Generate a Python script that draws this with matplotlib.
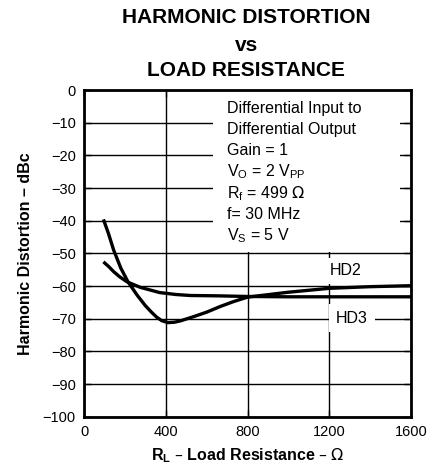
import matplotlib.pyplot as plt
from matplotlib.patches import Rectangle

plt.rcParams['font.family'] = ['Liberation Sans', 'DejaVu Sans']

# HD2 and HD3 vs load resistance
hd2_r = [95, 120, 145, 180, 215, 260, 300, 330, 355, 380, 410, 440, 470, 535, 600, 665, 730, 800, 1000, 1200, 1400, 1600]
hd2_db = [-39.6, -44.0, -49.0, -54.5, -58.7, -62.8, -66.0, -68.0, -69.5, -70.6, -71.2, -71.1, -70.7, -69.4, -68.0, -66.3, -64.8, -63.4, -61.9, -60.7, -60.2, -59.9]
hd3_r = [95, 120, 145, 175, 210, 275, 370, 450, 520, 650, 800, 1000, 1200, 1400, 1600]
hd3_db = [-52.6, -54.0, -55.6, -57.2, -58.7, -60.4, -62.0, -62.6, -62.9, -63.0, -63.2, -63.3, -63.3, -63.3, -63.3]

x_ticks = [0, 400, 800, 1200, 1600]
y_ticks = list(range(-100, 1, 10))

conditions = ['Differential Input to', 'Differential Output', 'Gain = 1',
              r'V$_\mathregular{O}$ = 2 V$_\mathregular{PP}$',
              r'R$_\mathregular{f}$ = 499 $\Omega$',
              'f= 30 MHz', r'V$_\mathregular{S}$ = 5 V']

fig = plt.figure(figsize=(4.45, 4.7), dpi=100)
ax = fig.add_axes([0.1888, 0.1134, 0.7348, 0.6951])

ax.set_xlim(0, 1600)
ax.set_ylim(-100, 0)
ax.set_xticks(x_ticks)
ax.set_yticks(y_ticks)
ax.grid(True, color='black', linewidth=1.0, zorder=0)
ax.set_axisbelow(True)
ax.tick_params(direction='in', length=5, width=1, top=True, right=True,
               labelsize=10.5, pad=6)
for s in ax.spines.values():
    s.set_linewidth(2)

# white area holding the test conditions
ax.add_patch(Rectangle((631, -49.7), 914, 49.7, facecolor='white',
                       edgecolor='none', zorder=1))

ax.plot(hd2_r, hd2_db, color='black', linewidth=2.4, zorder=3, solid_capstyle='butt')
ax.plot(hd3_r, hd3_db, color='black', linewidth=2.4, zorder=3, solid_capstyle='butt')

y0 = -5.6
for i, line in enumerate(conditions):
    ax.text(700, y0 - i * 6.5, line, fontsize=11.5, va='center', ha='left', zorder=2)

ax.text(1282, -55.3, 'HD2', fontsize=11.5, ha='center', va='center', zorder=2,
        bbox=dict(facecolor='white', edgecolor='none', pad=4))
ax.text(1311, -69.8, 'HD3', fontsize=11.5, ha='center', va='center', zorder=2,
        bbox=dict(facecolor='white', edgecolor='none', pad=5))

ax.set_xlabel(r'R$_\mathregular{L}$ – Load Resistance – $\Omega$', fontsize=11.5,
              fontweight='bold', labelpad=5)
ax.set_ylabel('Harmonic Distortion – dBc', fontsize=11.5, fontweight='bold', labelpad=7)

fig.text(0.553, 0.963, 'HARMONIC DISTORTION', ha='center', va='center',
         fontsize=15, fontweight='bold')
fig.text(0.553, 0.903, 'vs', ha='center', va='center', fontsize=15, fontweight='bold')
fig.text(0.553, 0.849, 'LOAD RESISTANCE', ha='center', va='center',
         fontsize=15, fontweight='bold')

fig.savefig('out.png', dpi=100)
